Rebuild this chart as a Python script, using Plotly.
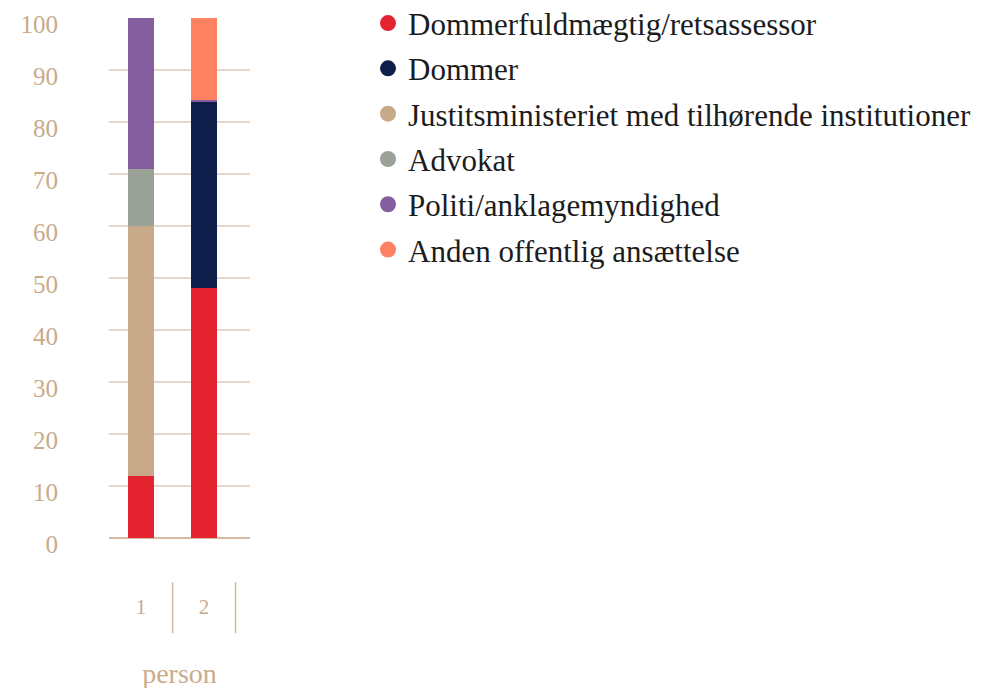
import plotly.graph_objects as go

persons = ["1", "2"]
series_names = [
    "Dommerfuldmægtig/retsassessor",
    "Dommer",
    "Justitsministeriet med tilhørende institutioner",
    "Advokat",
    "Politi/anklagemyndighed",
    "Anden offentlig ansættelse",
]
dommerfuld = [12, 48]
dommer = [0, 36]
justits = [48, 0]
advokat = [11, 0]
politi = [29, 0.3]
anden = [0, 15.7]
series_values = [dommerfuld, dommer, justits, advokat, politi, anden]
colors = ["#e3232f", "#0d1f4a", "#c8aa8a", "#9aa297", "#845e9f", "#fe8262"]
y_ticks = list(range(0, 101, 10))

BEIGE = "#c9ab8a"
FONT = "Liberation Serif"

fig = go.Figure()
for name, vals, col in zip(series_names, series_values, colors):
    fig.add_trace(go.Bar(
        x=persons, y=vals, name=name, marker=dict(color=col, line=dict(width=0)),
        width=0.41, showlegend=False, legendgroup=name,
    ))
for name, col in zip(series_names, colors):
    fig.add_trace(go.Scatter(
        x=[None], y=[None], mode="markers", name=name, legendgroup=name,
        marker=dict(color=col, size=20, symbol="circle"),
    ))

# category dividers below the axis
for xb in [0.5, 1.5]:
    fig.add_shape(type="line", xref="x", yref="paper", x0=xb, x1=xb,
                  y0=-0.085, y1=-0.183, line=dict(color="#d3bc9f", width=1.5))

fig.update_layout(
    width=1000, height=688,
    barmode="stack",
    plot_bgcolor="white", paper_bgcolor="white",
    margin=dict(l=101, r=0, t=10, b=158, autoexpand=False),
    font=dict(family=FONT, color=BEIGE),
    xaxis=dict(
        domain=[0, 141 / 899], automargin=False,
        type="category", range=[-0.51, 1.73],
        showgrid=False, zeroline=False, showline=False, ticks="",
        tickfont=dict(family=FONT, size=21, color=BEIGE),
        ticklabelstandoff=54,
        title=dict(text="person", font=dict(family=FONT, size=28, color=BEIGE), standoff=45),
    ),
    yaxis=dict(
        range=[0, 100], tickvals=y_ticks, ticktext=[str(v) for v in y_ticks],
        automargin=False, ticklabeloverflow="allow",
        showgrid=True, gridcolor="#e4d8ca", gridwidth=1.5,
        zeroline=True, zerolinecolor="#d3bc9f", zerolinewidth=2,
        showline=False, ticks="",
        tickfont=dict(family=FONT, size=25, color=BEIGE),
        ticklabelstandoff=50, ticklabelshift=6,
    ),
    legend=dict(
        x=(368 - 109) / 899, xanchor="left", y=1.0415, yanchor="top",
        font=dict(family=FONT, size=31, color="#1c1c1c"),
        traceorder="grouped", tracegroupgap=2,
        bgcolor="rgba(0,0,0,0)", itemsizing="trace",
    ),
)

fig.write_html("out.html")
